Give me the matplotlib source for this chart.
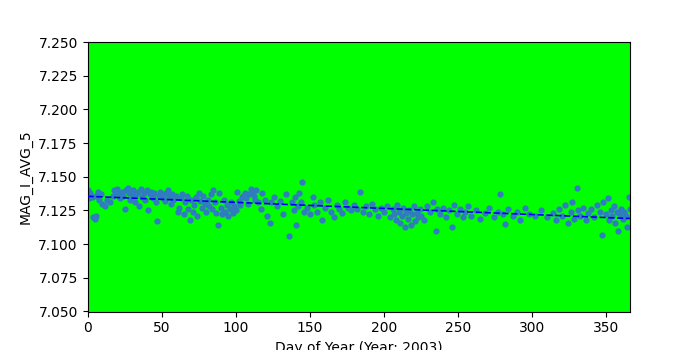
import matplotlib
matplotlib.use("Agg")
import matplotlib.pyplot as plt
from matplotlib.ticker import FormatStrFormatter

# values
days = [0, 0.5, 1, 2, 3, 4, 5, 5.5, 6, 7, 8, 9, 10, 12, 13, 15, 17, 18, 19, 20,
        21, 22, 23, 24, 25, 26, 27, 28, 29, 30, 31, 32, 33, 34, 35, 36, 37, 38, 39, 40,
        41, 42, 43, 44, 45, 46, 47, 48, 49, 50, 51, 52, 53, 54, 55, 56, 57, 58, 60, 61,
        62, 63, 64, 65, 66, 67, 68, 69, 70, 71, 72, 73, 74, 75, 76, 77, 78, 79, 80, 81,
        82, 83, 84, 85, 86, 87, 88, 89, 90, 91, 92, 93, 94, 95, 96, 97, 98, 99, 100, 101,
        102, 103, 104, 105, 106, 107, 108, 109, 110, 111, 112, 113, 114, 115, 117, 118, 120, 121, 123, 124,
        126, 128, 130, 132, 134, 136, 138, 139, 140, 141, 142, 143, 144, 145, 146, 148, 150, 152, 153, 155,
        157, 158, 160, 162, 164, 166, 168, 170, 172, 174, 176, 178, 180, 182, 184, 186, 188, 190, 192, 194,
        196, 198, 200, 202, 204, 206, 207, 208, 209, 210, 211, 212, 213, 214, 215, 216, 217, 218, 219, 220,
        221, 222, 223, 224, 225, 227, 229, 231, 233, 235, 236, 238, 240, 242, 244, 246, 247, 249, 251, 253,
        255, 257, 259, 262, 265, 268, 271, 274, 277, 278, 280, 282, 284, 287, 290, 292, 295, 298, 302, 306,
        310, 314, 316, 318, 320, 322, 324, 326, 327, 328, 330, 331, 332, 334, 336, 338, 340, 342, 344, 346,
        347, 348, 350, 351, 352, 353, 354, 355, 356, 357, 358, 359, 360, 361, 362, 363, 364, 365, 366]
mags = [7.137, 7.140, 7.134, 7.138, 7.135, 7.120, 7.119, 7.121, 7.136, 7.139, 7.133, 7.137, 7.130, 7.128, 7.133, 7.131, 7.136, 7.140, 7.139, 7.141,
        7.137, 7.134, 7.139, 7.136, 7.126, 7.140, 7.142, 7.138, 7.133, 7.136, 7.140, 7.131, 7.137, 7.139, 7.128, 7.141, 7.135, 7.138, 7.133, 7.140,
        7.125, 7.137, 7.139, 7.134, 7.138, 7.131, 7.117, 7.136, 7.139, 7.137, 7.134, 7.132, 7.138, 7.140, 7.135, 7.130, 7.137, 7.133, 7.136, 7.124,
        7.127, 7.134, 7.137, 7.122, 7.131, 7.136, 7.126, 7.118, 7.133, 7.124, 7.129, 7.135, 7.121, 7.138, 7.132, 7.127, 7.136, 7.130, 7.124, 7.133,
        7.128, 7.137, 7.126, 7.140, 7.131, 7.123, 7.114, 7.138, 7.127, 7.122, 7.133, 7.124, 7.129, 7.121, 7.126, 7.131, 7.123, 7.128, 7.125, 7.139,
        7.132, 7.129, 7.135, 7.136, 7.138, 7.134, 7.130, 7.137, 7.141, 7.139, 7.136, 7.133, 7.140, 7.131, 7.126, 7.138, 7.133, 7.121, 7.116, 7.131,
        7.135, 7.128, 7.132, 7.122, 7.137, 7.106, 7.131, 7.125, 7.135, 7.114, 7.128, 7.138, 7.131, 7.146, 7.124, 7.127, 7.122, 7.135, 7.129, 7.124,
        7.131, 7.118, 7.127, 7.133, 7.124, 7.120, 7.129, 7.126, 7.123, 7.131, 7.127, 7.125, 7.129, 7.126, 7.139, 7.124, 7.128, 7.122, 7.130, 7.126,
        7.121, 7.127, 7.124, 7.128, 7.120, 7.126, 7.122, 7.118, 7.129, 7.124, 7.116, 7.121, 7.127, 7.113, 7.123, 7.119, 7.125, 7.114, 7.122, 7.128,
        7.117, 7.123, 7.120, 7.126, 7.121, 7.118, 7.128, 7.124, 7.131, 7.110, 7.126, 7.122, 7.127, 7.120, 7.125, 7.113, 7.129, 7.122, 7.126, 7.120,
        7.124, 7.128, 7.121, 7.125, 7.119, 7.123, 7.127, 7.120, 7.124, 7.137, 7.122, 7.115, 7.126, 7.121, 7.124, 7.118, 7.127, 7.122, 7.121, 7.125,
        7.120, 7.123, 7.118, 7.126, 7.121, 7.129, 7.116, 7.124, 7.131, 7.119, 7.142, 7.125, 7.121, 7.127, 7.118, 7.123, 7.126, 7.120, 7.129, 7.124,
        7.107, 7.131, 7.122, 7.134, 7.118, 7.125, 7.121, 7.128, 7.116, 7.124, 7.110, 7.122, 7.126, 7.119, 7.124, 7.121, 7.113, 7.135, 7.126]

trend_x = [0, 366]
trend_y = [7.1355, 7.1190]

fig, ax = plt.subplots(figsize=(7, 3.5), dpi=100)
ax.set_facecolor("#00ff00")
ax.scatter(days, mags, s=12, color="#2f7cc0", zorder=2)
ax.plot(trend_x, trend_y, linestyle="--", color="#0000ee", linewidth=1.2, zorder=3)

ax.set_xlim(0, 366)
ax.set_ylim(7.05, 7.25)
ax.yaxis.set_major_formatter(FormatStrFormatter("%.3f"))
ax.set_xlabel("Day of Year (Year: 2003)")
ax.set_ylabel("MAG_I_AVG_5")

fig.savefig("out.png", dpi=100)
